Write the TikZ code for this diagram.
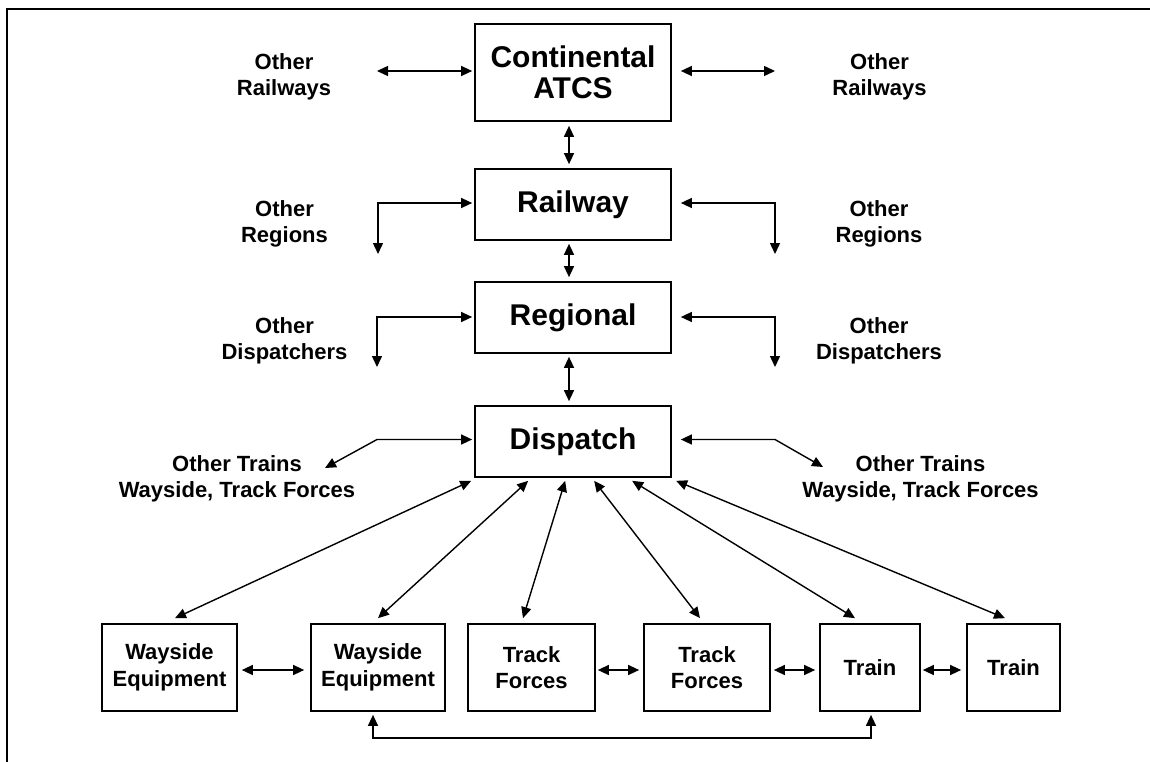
\documentclass[tikz,border=0pt]{standalone}
\usepackage{fontspec}
\setmainfont{Liberation Sans}
\usetikzlibrary{arrows.meta,calc}
\begin{document}
\begin{tikzpicture}[x=1pt,y=-1pt,
 box/.style={draw, line width=1.7pt, inner sep=0pt, align=center, font=\bfseries\fontsize{22}{26.5}\selectfont},
 bigbox/.style={box, font=\bfseries\fontsize{30}{31.5}\selectfont, minimum width=196pt},
 lowbox/.style={box, minimum height=87pt},
 lbl/.style={align=center, inner sep=0pt, font=\bfseries\fontsize{22}{26.5}\selectfont},
 conn/.style={line width=1.4pt, {Triangle[length=11pt,width=10pt]}-{Triangle[length=11pt,width=10pt]}},
]
\useasboundingbox (0,0) rectangle (1150,762);
\draw[line width=2.4pt] (7,763) -- (7,9) -- (1151,9);

% top column
\node[bigbox, minimum height=97pt] (cont) at (573,72.5) {Continental\\ATCS};
\node[bigbox, minimum height=71pt] (rail) at (573,204.5) {Railway};
\node[bigbox, minimum height=71pt] (regi) at (573,317.5) {Regional};
\node[bigbox, minimum height=71pt] (disp) at (573,441.5) {Dispatch};

% bottom row
\node[lowbox, minimum width=135pt] (w1) at (169.5,667.5) {Wayside\\Equipment};
\node[lowbox, minimum width=134pt] (w2) at (378,667.5) {Wayside\\Equipment};
\node[lowbox, minimum width=127pt] (t1) at (531.5,667.5) {Track\\Forces};
\node[lowbox, minimum width=126pt] (t2) at (707,667.5) {Track\\Forces};
\node[lowbox, minimum width=100pt] (tr1) at (870,667.5) {Train};
\node[lowbox, minimum width=93pt] (tr2) at (1013.5,667.5) {Train};

% side labels
\node[lbl] (orwl) at (284,77) {Other\\Railways};
\node[lbl] (orwr) at (879.5,77) {Other\\Railways};
\node[lbl] (orgl) at (284.5,224) {Other\\Regions};
\node[lbl] (orgr) at (879,224) {Other\\Regions};
\node[lbl] (odl) at (284.5,341) {Other\\Dispatchers};
\node[lbl] (odr) at (879,341) {Other\\Dispatchers};
\node[lbl] (otl) at (237,479) {Other Trains\\Wayside, Track Forces};
\node[lbl] (otr) at (920.5,479) {Other Trains\\Wayside, Track Forces};

% free ends
\coordinate (a1) at (377,71);
\coordinate (a2) at (775,71);
\coordinate (b1) at (378,254);
\coordinate (b2) at (775,254);
\coordinate (c1) at (377,367);
\coordinate (c2) at (775,367);
\coordinate (d1) at (325,468);
\coordinate (d1k) at (377,439.5);
\coordinate (d2) at (823,467);
\coordinate (d2k) at (775,439.5);

% vertical chain
\draw[conn, shorten <=4pt, shorten >=4pt] ([xshift=-4pt]cont.south) -- ([xshift=-4pt]rail.north);
\draw[conn, shorten <=3pt, shorten >=4pt] ([xshift=-4pt]rail.south) -- ([xshift=-4pt]regi.north);
\draw[conn, shorten <=3pt, shorten >=4pt] ([xshift=-4pt]regi.south) -- ([xshift=-4pt]disp.north);

% side connectors
\draw[conn, shorten >=2pt] (a1) -- ([yshift=1.5pt]cont.west);
\draw[conn, shorten <=9pt] ([yshift=1.5pt]cont.east) -- (a2);
\draw[conn, shorten >=2pt] (b1) |- ([yshift=1.5pt]rail.west);
\draw[conn, shorten <=9pt] ([yshift=1.5pt]rail.east) -| (b2);
\draw[conn, shorten >=2pt] (c1) |- ([yshift=0.5pt]regi.west);
\draw[conn, shorten <=9pt] ([yshift=0.5pt]regi.east) -| (c2);
\draw[conn, shorten >=2pt] (d1) -- (d1k) -- ([yshift=2pt]disp.west);
\draw[conn, shorten <=9pt] ([yshift=2pt]disp.east) -- (d2k) -- (d2);

% dispatch to field
\draw[conn] ($(disp.south west)+(-3,3)$) -- ($(w1.north)+(5.5,-5)$);
\draw[conn] ($(disp.south west)+(54,3)$) -- ($(w2.north)+(0,-5)$);
\draw[conn] ($(disp.south west)+(91,3)$) -- ($(t1.north)+(-8.5,-5)$);
\draw[conn] ($(disp.south west)+(120,3)$) -- ($(t2.north)+(-7,-5)$);
\draw[conn] ($(disp.south west)+(158,3)$) -- ($(tr1.north)+(-15,-5)$);
\draw[conn] ($(disp.south west)+(202,3)$) -- ($(tr2.north)+(-8.5,-5)$);

% bottom row links
\draw[conn, shorten <=4pt, shorten >=6pt] ([yshift=-2.5pt]w1.east) -- ([yshift=-2.5pt]w2.west);
\draw[conn, shorten <=2pt, shorten >=4pt] ([yshift=-2.5pt]t1.east) -- ([yshift=-2.5pt]t2.west);
\draw[conn, shorten <=3pt, shorten >=4pt] ([yshift=-2.5pt]t2.east) -- ([yshift=-2.5pt]tr1.west);
\draw[conn, shorten <=2pt, shorten >=5pt] ([yshift=-2.5pt]tr1.east) -- ([yshift=-2.5pt]tr2.west);

% bottom loop
\draw[conn, shorten <=3pt, shorten >=3pt] ([xshift=-5pt]w2.south) -- ++(0,26) -| ([xshift=1pt]tr1.south);
\end{tikzpicture}
\end{document}
